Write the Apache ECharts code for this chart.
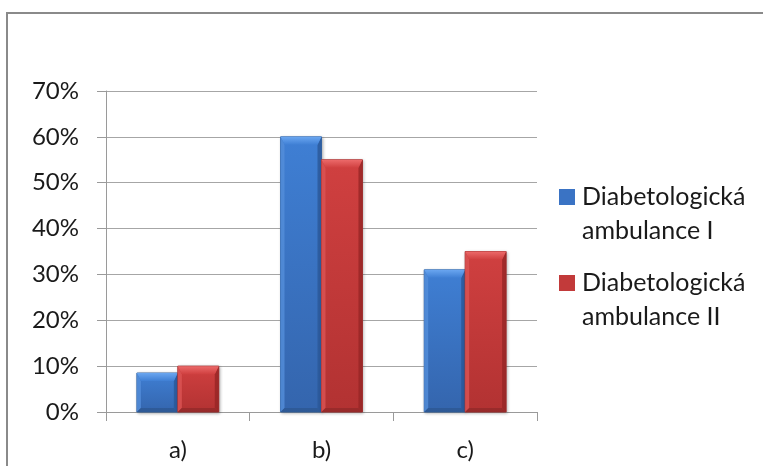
<!DOCTYPE html>
<html>
<head>
<meta charset="utf-8">
<script src="https://cdn.jsdelivr.net/npm/echarts@6/dist/echarts.min.js"></script>
<style>
  html, body { margin: 0; padding: 0; background: #fff; }
  #chart { width: 763px; height: 466px; }
</style>
</head>
<body>
<div id="chart"></div>
<script>
// Categories and percentages per ambulance
var categories = ['a)', 'b)', 'c)'];
var seriesNames = ['Diabetologická\nambulance I', 'Diabetologická\nambulance II'];
var ambulanceI = [8.5, 60, 31];
var ambulanceII = [10, 55, 35];
var yTicks = [0, 10, 20, 30, 40, 50, 60, 70];

var FONT = 'Lato, "Open Sans", sans-serif';

// Bevelled bar palettes: [top face, body top, body bottom, left edge, right edge, bottom edge, outline]
var palettes = [
  ['#6aa6f0', '#3f7fd4', '#3465ad', '#5590dc', '#2b5797', '#2c568f', '#3a6aa8'],
  ['#ec6a6a', '#d04040', '#b23232', '#dd5555', '#962626', '#8e2828', '#a43434']
];

// Each ambulance is one bevelled bar inside a category band, side by side
function makeRenderer(seriesIdx) {
  var p = palettes[seriesIdx];
  return function (params, api) {
    var cat = api.value(0);
    var val = api.value(1);
    var base = api.coord([cat, 0]);
    var tip = api.coord([cat, val]);
    var band = api.size([1, 0])[0];
    var bw = band * 0.285;
    var x0 = base[0] - bw + seriesIdx * bw;
    var x1 = x0 + bw;
    var y0 = tip[1];
    var y1 = base[1];
    var h = y1 - y0;
    var tb = Math.min(8, h / 3);  // top bevel depth
    var sb = Math.min(4, bw / 6); // side bevel width
    var bb = Math.min(4, h / 6);  // bottom bevel depth
    return {
      type: 'group',
      children: [
        {
          type: 'rect',
          shape: { x: x0, y: y0, width: bw, height: h },
          style: {
            fill: new echarts.graphic.LinearGradient(0, 0, 0, 1, [
              { offset: 0, color: p[1] }, { offset: 1, color: p[2] }
            ]),
            stroke: p[6], lineWidth: 1,
            shadowColor: 'rgba(0,0,0,0.3)', shadowBlur: 3, shadowOffsetX: 1, shadowOffsetY: 1
          }
        },
        {
          type: 'polygon',
          shape: { points: [[x0, y0], [x0 + sb, y0 + tb], [x0 + sb, y1 - bb], [x0, y1]] },
          style: { fill: p[3], opacity: 0.8 }
        },
        {
          type: 'polygon',
          shape: { points: [[x1, y0], [x1 - sb, y0 + tb], [x1 - sb, y1 - bb], [x1, y1]] },
          style: { fill: p[4], opacity: 0.8 }
        },
        {
          type: 'polygon',
          shape: { points: [[x0, y1], [x0 + sb, y1 - bb], [x1 - sb, y1 - bb], [x1, y1]] },
          style: { fill: p[5], opacity: 0.7 }
        },
        {
          type: 'polygon',
          shape: { points: [[x0, y0], [x1, y0], [x1 - sb, y0 + tb], [x0 + sb, y0 + tb]] },
          style: {
            fill: new echarts.graphic.LinearGradient(0, 0, 0, 1, [
              { offset: 0, color: p[0] }, { offset: 1, color: p[1] }
            ])
          }
        }
      ]
    };
  };
}

function seriesData(values) {
  return values.map(function (v, i) { return [i, v]; });
}

function legendFor(name, color, top) {
  return {
    data: [{ name: name, itemStyle: { color: color } }],
    left: 559,
    top: top,
    padding: 0,
    orient: 'vertical',
    icon: 'rect',
    itemWidth: 16,
    itemHeight: 16,
    itemGap: 0,
    selectedMode: false,
    // a leading blank line keeps the swatch level with the first text line
    formatter: function (n) { return ' \n' + n; },
    textStyle: {
      fontFamily: FONT,
      fontSize: 25,
      color: '#1a1a1a',
      lineHeight: 34,
      padding: [0, 0, 0, 2]
    }
  };
}

var chart = echarts.init(document.getElementById('chart'), null, { renderer: 'canvas' });

chart.setOption({
  animation: false,
  backgroundColor: '#ffffff',
  graphic: [{
    type: 'rect',
    shape: { x: 7, y: 13, width: 800, height: 500 },
    style: { fill: 'none', stroke: '#8a8a8a', lineWidth: 2 },
    silent: true,
    z: -1
  }],
  grid: { left: 106, right: 226, top: 91, bottom: 54 },
  legend: [
    legendFor(seriesNames[0], '#3a73c4', 146),
    legendFor(seriesNames[1], '#c23a3a', 232)
  ],
  xAxis: {
    type: 'category',
    data: categories,
    axisLine: { lineStyle: { color: '#9a9a9a', width: 1 } },
    axisTick: { show: true, length: 9, lineStyle: { color: '#9a9a9a' } },
    axisLabel: { fontFamily: FONT, fontSize: 24, color: '#1a1a1a', margin: 26 }
  },
  yAxis: {
    type: 'value',
    min: yTicks[0],
    max: yTicks[yTicks.length - 1],
    interval: 10,
    axisLine: { show: true, lineStyle: { color: '#9a9a9a', width: 1 } },
    axisTick: { show: true, length: 9, lineStyle: { color: '#9a9a9a' } },
    splitLine: { lineStyle: { color: '#a6a6a6', width: 1 } },
    axisLabel: {
      fontFamily: FONT, fontSize: 24, color: '#1a1a1a', margin: 27,
      formatter: function (v) { return v + '%'; }
    }
  },
  series: [{
    name: seriesNames[0],
    type: 'custom',
    renderItem: makeRenderer(0),
    itemStyle: { color: '#3a73c4' },
    encode: { x: 0, y: 1 },
    data: seriesData(ambulanceI),
    z: 3
  }, {
    name: seriesNames[1],
    type: 'custom',
    renderItem: makeRenderer(1),
    itemStyle: { color: '#c23a3a' },
    encode: { x: 0, y: 1 },
    data: seriesData(ambulanceII),
    z: 3
  }]
});
</script>
</body>
</html>
